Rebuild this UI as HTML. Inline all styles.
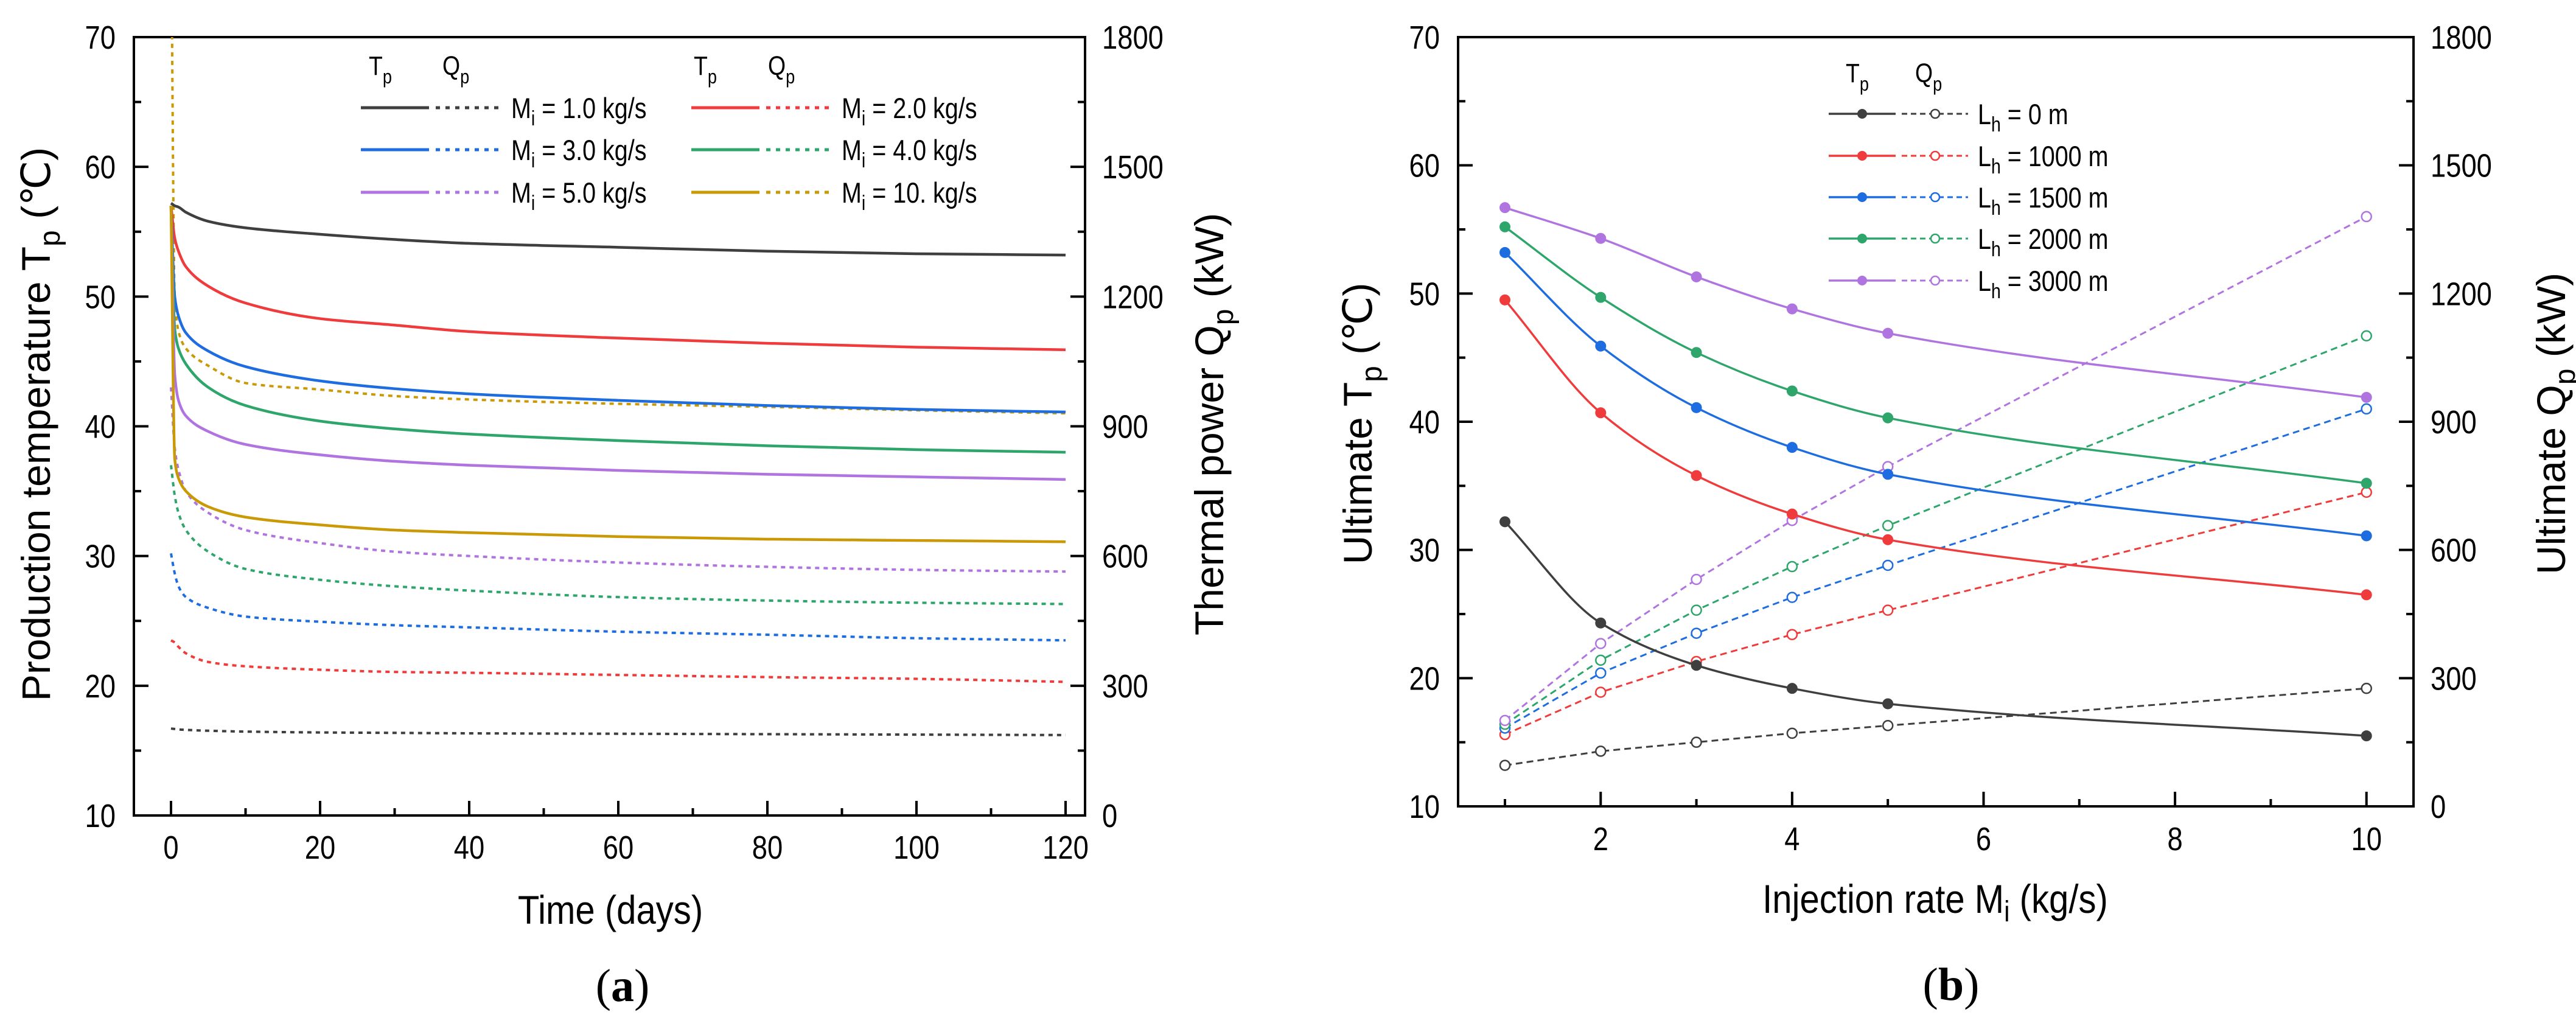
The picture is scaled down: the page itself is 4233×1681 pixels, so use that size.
<!DOCTYPE html>
<html><head><meta charset="utf-8"><style>
html,body{margin:0;padding:0;background:#fff;width:4233px;height:1681px;overflow:hidden}
svg text{font-family:"Liberation Sans",Arial,sans-serif;fill:#000}
</style></head><body>
<svg id="fig" xmlns="http://www.w3.org/2000/svg" width="4233" height="1681" viewBox="0 0 4233 1681">
<defs>
<clipPath id="clipA"><rect x="220" y="61" width="1563" height="1279"/></clipPath>
<clipPath id="clipB"><rect x="2396" y="61" width="1570" height="1264"/></clipPath>
</defs>
<g id="chartA"></g>
<g id="chartB"></g>
</svg>
<script>
// ===== Chart (a) data =====
const timesA = [0, 0.5, 1, 2, 5, 10, 20, 30, 40, 60, 80, 100, 120];
const seriesLabelsA = ["1.0", "2.0", "3.0", "4.0", "5.0", "10."];
const tpM1 = [57.2, 57.0, 56.9, 56.5, 55.8, 55.3, 54.8, 54.4, 54.1, 53.8, 53.5, 53.3, 53.2];
const tpM2 = [57.0, 54.5, 53.5, 52.3, 50.8, 49.5, 48.3, 47.8, 47.3, 46.8, 46.4, 46.1, 45.9];
const tpM3 = [57.0, 50.0, 48.5, 47.2, 45.8, 44.6, 43.5, 42.9, 42.5, 42.0, 41.6, 41.3, 41.1];
const tpM4 = [57.0, 47.5, 46.0, 44.8, 43.0, 41.6, 40.4, 39.8, 39.4, 38.9, 38.5, 38.2, 38.0];
const tpM5 = [57.0, 44.0, 42.0, 40.8, 39.6, 38.6, 37.8, 37.3, 37.0, 36.6, 36.3, 36.1, 35.9];
const tpM10 = [57.0, 37.5, 36.0, 35.0, 33.8, 33.0, 32.4, 32.0, 31.8, 31.5, 31.3, 31.2, 31.1];
const qpM1 = [201, 200, 199, 198, 196, 194, 192, 191, 190, 189, 188, 187, 186];
const qpM2 = [405, 400, 390, 375, 355, 345, 337, 332, 330, 325, 320, 316, 309];
const qpM3 = [606, 560, 530, 505, 480, 460, 448, 440, 435, 425, 418, 410, 405];
const qpM4 = [810, 740, 700, 660, 610, 570, 545, 530, 520, 505, 497, 492, 489];
const qpM5 = [990, 850, 800, 750, 700, 660, 630, 610, 600, 585, 575, 568, 564];
const qpM10 = [2100, 1200, 1120, 1080, 1040, 1000, 985, 970, 962, 952, 945, 937, 930];
const xTicksA = [0, 20, 40, 60, 80, 100, 120];
const yTicksA = [10, 20, 30, 40, 50, 60, 70];
const y2TicksA = [0, 300, 600, 900, 1200, 1500, 1800];

// ===== Chart (b) data =====
const ratesB = [1, 2, 3, 4, 5, 10];
const lengthLabelsB = ["0", "1000", "1500", "2000", "3000"];
const tpL0 = [32.2, 24.3, 21.0, 19.2, 18.0, 15.5];
const tpL1000 = [49.5, 40.7, 35.8, 32.8, 30.8, 26.5];
const tpL1500 = [53.2, 45.9, 41.1, 38.0, 35.9, 31.1];
const tpL2000 = [55.2, 49.7, 45.4, 42.4, 40.3, 35.2];
const tpL3000 = [56.7, 54.3, 51.3, 48.8, 46.9, 41.9];
const qpL0 = [96, 129, 150, 171, 189, 276];
const qpL1000 = [168, 267, 339, 402, 459, 735];
const qpL1500 = [183, 312, 405, 489, 564, 930];
const qpL2000 = [192, 342, 459, 561, 657, 1101];
const qpL3000 = [201, 381, 531, 669, 795, 1380];
const xTicksB = [2, 4, 6, 8, 10];
const yTicksB = [10, 20, 30, 40, 50, 60, 70];
const y2TicksB = [0, 300, 600, 900, 1200, 1500, 1800];

const COLORS = ["#3f3f3f", "#ef3b3b", "#1e6de0", "#2ea56a", "#b074e0", "#c99a06"];
const NS = "http://www.w3.org/2000/svg";

function mk(tag, attrs, parent) {
  const e = document.createElementNS(NS, tag);
  for (const k in attrs) e.setAttribute(k, attrs[k]);
  parent.appendChild(e);
  return e;
}
function txt(parent, x, y, s, size, anchor, sx) {
  const t = mk("text", {transform: `translate(${x},${y}) scale(${sx || 0.84},1)`, "font-size": size, "text-anchor": anchor || "start"}, parent);
  t.innerHTML = s;
  return t;
}
// monotone cubic (Fritsch-Carlson) in pixel space, x increasing
function monotone(pts) {
  const n = pts.length;
  const dx = [], dy = [], m = [];
  for (let i = 0; i < n - 1; i++) { dx.push(pts[i+1][0]-pts[i][0]); dy.push(pts[i+1][1]-pts[i][1]); m.push(dy[i]/dx[i]); }
  const t = [m[0]];
  for (let i = 1; i < n - 1; i++) {
    if (m[i-1]*m[i] <= 0) t.push(0);
    else { const w1 = 2*dx[i]+dx[i-1], w2 = dx[i]+2*dx[i-1]; t.push((w1+w2)/(w1/m[i-1]+w2/m[i])); }
  }
  t.push(m[n-2]);
  let d = `M${pts[0][0]},${pts[0][1]}`;
  for (let i = 0; i < n - 1; i++) {
    const h = dx[i] / 3;
    d += ` C${pts[i][0]+h},${pts[i][1]+t[i]*h} ${pts[i+1][0]-h},${pts[i+1][1]-t[i+1]*h} ${pts[i+1][0]},${pts[i+1][1]}`;
  }
  return d;
}
function poly(pts) { return "M" + pts.map(p => p.join(",")).join(" L"); }

function axesFrame(g, L, T, R, B, xTicks, xMinor, yTicks, yMinor, y2Ticks, sx, sy, sy2, xLabY) {
  const frame = mk("rect", {x: L, y: T, width: R - L, height: B - T, fill: "none", stroke: "#000", "stroke-width": 4}, g);
  
  
  xTicks.forEach(v => {
    const tk = mk("line", {x1: sx(v), x2: sx(v), y1: B, y2: B - 24, stroke: "#000", "stroke-width": 4}, g);
    
    
    const lb = txt(g, sx(v), xLabY, String(v), 54, "middle");
    
    
  });
  xMinor.forEach(v => mk("line", {x1: sx(v), x2: sx(v), y1: B, y2: B - 12, stroke: "#000", "stroke-width": 4}, g));
  yTicks.forEach(v => {
    mk("line", {x1: L, x2: L + 24, y1: sy(v), y2: sy(v), stroke: "#000", "stroke-width": 4}, g);
    const lb = txt(g, L - 30, sy(v) + 19, String(v), 54, "end");
    
    
  });
  yMinor.forEach(v => {
    mk("line", {x1: L, x2: L + 12, y1: sy(v), y2: sy(v), stroke: "#000", "stroke-width": 4}, g);
    mk("line", {x1: R, x2: R - 12, y1: sy(v), y2: sy(v), stroke: "#000", "stroke-width": 4}, g);
  });
  y2Ticks.forEach(v => {
    mk("line", {x1: R, x2: R - 24, y1: sy2(v), y2: sy2(v), stroke: "#000", "stroke-width": 4}, g);
    const lb = txt(g, R + 28, sy2(v) + 19, String(v), 54, "start");
    
    
  });
}

// ===== Draw chart (a) =====
(function () {
  const g = document.getElementById("chartA");
  const L = 220, R = 1783, T = 61, B = 1340;
  const sx = v => 281 + v * 12.25;
  const sy = v => B - (v - 10) / 60 * (B - T);
  const sy2 = v => B - v / 1800 * (B - T);
  axesFrame(g, L, T, R, B, xTicksA, [10, 30, 50, 70, 90, 110], yTicksA, [15, 25, 35, 45, 55, 65], y2TicksA, sx, sy, sy2, 1411);
  const tps = [tpM1, tpM2, tpM3, tpM4, tpM5, tpM10];
  const qps = [qpM1, qpM2, qpM3, qpM4, qpM5, qpM10];
  const clipG = mk("g", {"clip-path": "url(#clipA)"}, g);
  qps.forEach((arr, i) => {
    const p = mk("path", {d: monotone(timesA.map((t, j) => [sx(t), sy2(arr[j])])), fill: "none", stroke: COLORS[i], "stroke-width": 4, "stroke-dasharray": "7 7"}, clipG);
    
    
  });
  tps.forEach((arr, i) => {
    const p = mk("path", {d: monotone(timesA.map((t, j) => [sx(t), sy(arr[j])])), fill: "none", stroke: COLORS[i], "stroke-width": 4.5}, clipG);
    
    
  });
  const lg = mk("g", {}, g);
  
  
  [[606, 727], [1140, 1262]].forEach(h => {
    txt(lg, h[0], 123, 'T<tspan font-size="32" dy="14">p</tspan>', 44, "start", 0.85);
    txt(lg, h[1], 123, 'Q<tspan font-size="32" dy="14">p</tspan>', 44, "start", 0.85);
  });
  const rowsY = [177, 246, 316];
  for (let i = 0; i < 6; i++) {
    const col = i % 2, row = Math.floor(i / 2);
    const x0 = col ? 1136 : 593, y = rowsY[row];
    mk("line", {x1: x0, x2: x0 + 112, y1: y, y2: y, stroke: COLORS[i], "stroke-width": 5}, lg);
    mk("line", {x1: x0 + 123, x2: x0 + 230, y1: y, y2: y, stroke: COLORS[i], "stroke-width": 5, "stroke-dasharray": "7 9"}, lg);
    const e = txt(lg, x0 + 247, y + 17, 'M<tspan font-size="34" dy="12">i</tspan><tspan dy="-12"> = ' + seriesLabelsA[i] + ' kg/s</tspan>', 47, "start", 0.84);
    
    
  }
  const yt = txt(g, 0, 0, 'Production temperature T<tspan font-size="48" dy="16">p</tspan><tspan dy="-16"> (℃)</tspan>', 66, "middle", 1);
  yt.setAttribute("transform", "translate(82,697) rotate(-90)");
  
  
  const y2t = txt(g, 0, 0, 'Thermal power Q<tspan font-size="48" dy="16">p</tspan><tspan dy="-16"> (kW)</tspan>', 66, "middle", 1);
  y2t.setAttribute("transform", "translate(2010,697) rotate(-90)");
  
  
  const xt = txt(g, 1003, 1518, 'Time (days)', 66, "middle", 0.88);
  
  
  const cap = mk("text", {x: 1023, y: 1645, "font-size": 76, "text-anchor": "middle", style: 'font-family:"Liberation Serif",serif'}, g);
  cap.innerHTML = '(<tspan font-weight="bold">a</tspan>)';
  
  
})();

// ===== Draw chart (b) =====
(function () {
  const g = document.getElementById("chartB");
  const L = 2396, R = 3966, T = 61, B = 1325;
  const sx = v => 2473 + (v - 1) * 157.3;
  const sy = v => B - (v - 10) / 60 * (B - T);
  const sy2 = v => B - v / 1800 * (B - T);
  axesFrame(g, L, T, R, B, xTicksB, [1, 3, 5, 7, 9], yTicksB, [15, 25, 35, 45, 55, 65], y2TicksB, sx, sy, sy2, 1397);
  const tps = [tpL0, tpL1000, tpL1500, tpL2000, tpL3000];
  const qps = [qpL0, qpL1000, qpL1500, qpL2000, qpL3000];
  const cg = mk("g", {"clip-path": "url(#clipB)"}, g);
  qps.forEach((arr, i) => {
    const c = COLORS[i];
    const pts = ratesB.map((r, j) => [sx(r), sy2(arr[j])]);
    const p = mk("path", {d: poly(pts), fill: "none", stroke: c, "stroke-width": 3, "stroke-dasharray": "11 7"}, cg);
    
    
    pts.forEach(q => {
      const m = mk("circle", {cx: q[0], cy: q[1], r: 8, fill: "#fff", stroke: c, "stroke-width": 2.5}, cg);
      
      
    });
  });
  tps.forEach((arr, i) => {
    const c = COLORS[i];
    const pts = ratesB.map((r, j) => [sx(r), sy(arr[j])]);
    const p = mk("path", {d: monotone(pts), fill: "none", stroke: c, "stroke-width": 3.5}, cg);
    
    
    pts.forEach(q => {
      const m = mk("circle", {cx: q[0], cy: q[1], r: 9, fill: c}, cg);
      
      
    });
  });
  const lg = mk("g", {}, g);
  
  
  txt(lg, 3033, 135, 'T<tspan font-size="32" dy="14">p</tspan>', 44, "start", 0.85);
  txt(lg, 3147, 135, 'Q<tspan font-size="32" dy="14">p</tspan>', 44, "start", 0.85);
  const rowsY = [187, 256, 324, 392, 461];
  for (let i = 0; i < 5; i++) {
    const y = rowsY[i], c = COLORS[i];
    mk("line", {x1: 3005, x2: 3115, y1: y, y2: y, stroke: c, "stroke-width": 3.5}, lg);
    mk("circle", {cx: 3060, cy: y, r: 8, fill: c}, lg);
    mk("line", {x1: 3125, x2: 3234, y1: y, y2: y, stroke: c, "stroke-width": 3, "stroke-dasharray": "9 6"}, lg);
    mk("circle", {cx: 3180, cy: y, r: 7, fill: "#fff", stroke: c, "stroke-width": 2.5}, lg);
    const e = txt(lg, 3250, y + 17, 'L<tspan font-size="34" dy="12">h</tspan><tspan dy="-12"> = ' + lengthLabelsB[i] + ' m</tspan>', 47, "start", 0.84);
    
    
  }
  const yt = txt(g, 0, 0, 'Ultimate T<tspan font-size="48" dy="16">p</tspan><tspan dy="-16"> (℃)</tspan>', 66, "middle", 1);
  yt.setAttribute("transform", "translate(2254,696) rotate(-90)");
  
  
  const y2t = txt(g, 0, 0, 'Ultimate Q<tspan font-size="48" dy="16">p</tspan><tspan dy="-16"> (kW)</tspan>', 66, "middle", 1);
  y2t.setAttribute("transform", "translate(4215,696) rotate(-90)");
  
  
  const xt = txt(g, 3180, 1500, 'Injection rate M<tspan font-size="48" dy="14">i</tspan><tspan dy="-14"> (kg/s)</tspan>', 66, "middle", 0.88);
  
  
  const cap = mk("text", {x: 3206, y: 1643, "font-size": 76, "text-anchor": "middle", style: 'font-family:"Liberation Serif",serif'}, g);
  cap.innerHTML = '(<tspan font-weight="bold">b</tspan>)';
  
  
})();
</script>
</body></html>
